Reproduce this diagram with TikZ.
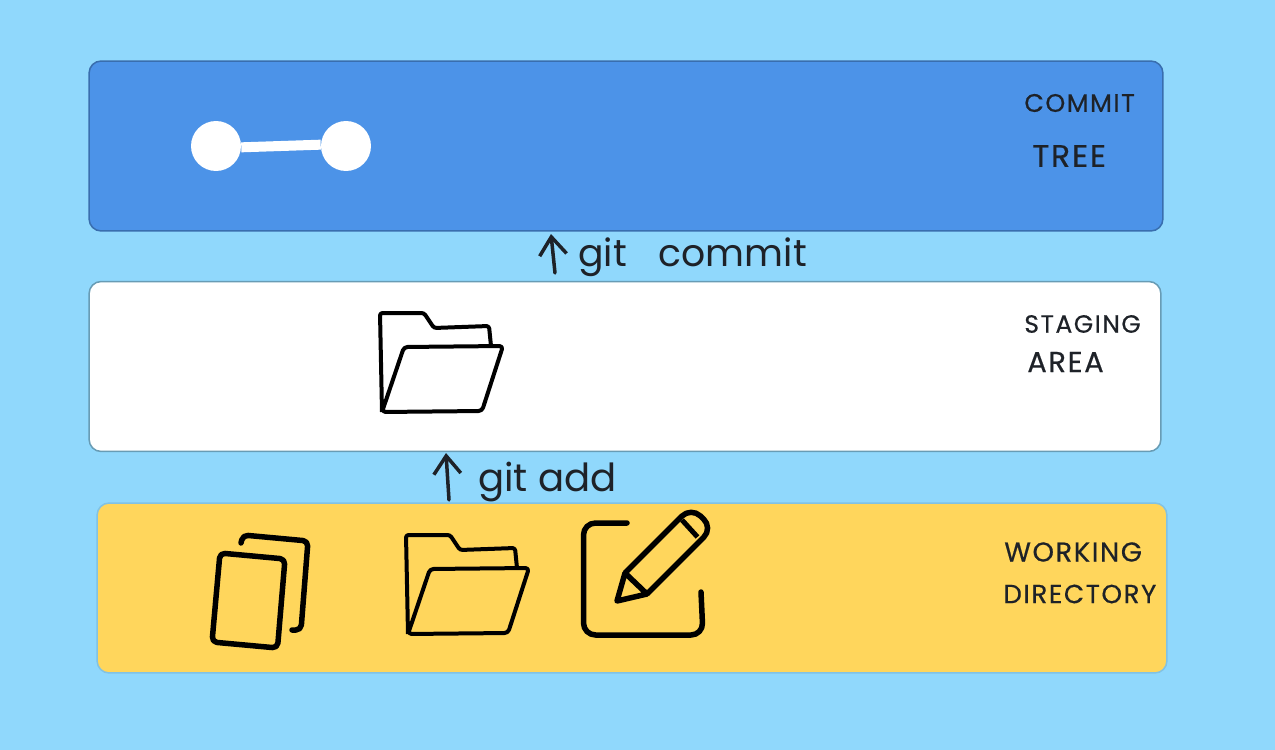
\documentclass[tikz,border=0pt]{standalone}
\usepackage{fontspec}
\setmainfont{Poppins}
\newfontfamily\handfont[LetterSpace=6,FakeBold=.5]{Poppins}
\usetikzlibrary{arrows.meta}
\definecolor{skybg}{HTML}{90D8FC}
\definecolor{commitblue}{HTML}{4C93E8}
\definecolor{workyellow}{HTML}{FFD65C}
\definecolor{inkdark}{HTML}{1E2228}
\tikzset{
  layerbox/.style={rectangle,rounded corners=.24cm,inner sep=0pt,minimum width=21.48cm,minimum height=3.4cm,draw=#1,line width=.03cm},
  commitdot/.style={circle,fill=white,inner sep=0pt,minimum size=1cm},
  handarrow/.style={inkdark,line width=.07cm,line cap=round,-{Straight Barb[length=.36cm,width=.54cm,line width=.07cm]}},
  gitlabel/.style={anchor=west,inner sep=0pt,inkdark,font=\fontsize{#1}{26}\selectfont},
  arealabel/.style={anchor=west,inner sep=0pt,inkdark,font=\fontsize{#1}{16}\handfont},
  icon/.style={black,line width=.11cm,line cap=round,line join=round},
  pics/folder/.style={code={
      \draw[black,line width=.08cm,rounded corners=.05cm,line join=round] (2,99) -- (0,0) -- (44,0) -- (54,15) -- (109,13) -- (111,33);
      \draw[black,line width=.08cm,rounded corners=.07cm,line join=round] (2,99) -- (24,34) -- (123,33) -- (102,98) -- cycle;
  }},
}
\begin{document}
\begin{tikzpicture}[x=.02cm,y=-.02cm]
  \path[use as bounding box,fill=skybg] (0,0) rectangle (1275,750);

  \node[layerbox=black!25!commitblue,fill=commitblue] (committree) at (626,146) {};
  \node[layerbox=black!28!skybg,fill=white,minimum width=21.44cm] (stagingarea) at (625,366.5) {};
  \node[layerbox=black!10!skybg,fill=workyellow,minimum width=21.4cm] (workingdir) at (632,588) {};

  \node[commitdot] (firstcommit) at (216,146) {};
  \node[commitdot] (secondcommit) at (346,146) {};
  \draw[white,line width=.2cm] (firstcommit.-3) -- (secondcommit.177);

  \pic (stagedfolder) at (380,313) {folder};
  \pic (workfolder) at (406,535) {folder};

  \draw[icon,rounded corners=.1cm] (220,553) -- (285,559) -- (277.5,648) -- (212,642) -- cycle;
  \draw[icon,rounded corners=.1cm] (241,543) -- (243,535) -- (308,541) -- (301,630) -- (292,630);

  \draw[icon,rounded corners=.24cm] (627,523) -- (583.5,523) -- (583.5,635) -- (703,635) -- (701,592);
  \draw[black,line width=.11cm,line join=round,rounded corners=.26cm] (625,573) -- (691,507) -- (713,528) -- (647,594);
  \draw[black,line width=.11cm,line join=round] (625,573) -- (647,594) -- (617,601) -- cycle;
  \draw[black,line width=.1cm] (682,520) -- (697.5,537);

  \coordinate (addtail) at (449,500);
  \coordinate (addhead) at (446,453);
  \coordinate (committail) at (555,273);
  \coordinate (commithead) at (551,234);
  \draw[handarrow] (addtail) -- (addhead);
  \draw[handarrow] (committail) -- (commithead);

  \node[gitlabel=22] (gitadd) at (478,482) {git add};
  \node[gitlabel=21.5] (gitcommit) at (578,257) {git\hspace{.64cm}commit};

  \node[arealabel=14.4] (commitword) at (1024,103) {COMMIT};
  \node[arealabel=17.8] (treeword) at (1032,156) {TREE};
  \node[arealabel=14.2] (stagingword) at (1024,324) {STAGING};
  \node[arealabel=16.4] (areaword) at (1027,362) {AREA};
  \node[arealabel=15.5] (workingword) at (1004,552) {WORKING};
  \node[arealabel=14.9] (directoryword) at (1003,594) {DIRECTORY};
\end{tikzpicture}
\end{document}
